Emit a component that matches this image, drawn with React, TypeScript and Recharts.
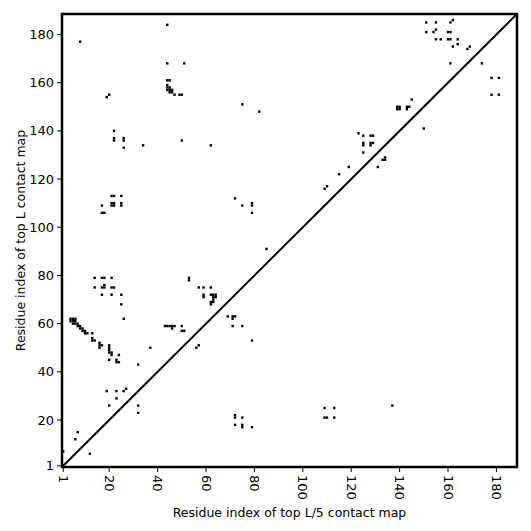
import type { FC } from 'react';
import {
  ScatterChart,
  Scatter,
  XAxis,
  YAxis,
  ReferenceLine,
  ReferenceArea,
} from 'recharts';

// residue count and axis ticks
const seqLength = 188;
const axisTicks = [1, 20, 40, 60, 80, 100, 120, 140, 160, 180];

// contacts of the top L map (upper triangle), [i, j]
const topLContacts: [number, number][] = [
  [44, 184], [8, 177], [44, 168], [51, 168], [44, 161], [45, 161],
  [44, 159], [44, 158], [45, 158], [44, 157], [45, 157], [46, 157], [45, 156], [46, 156],
  [47, 155], [49, 155], [50, 155], [20, 155], [19, 154],
  [22, 140], [22, 137], [22, 136], [26, 137], [26, 136], [26, 133], [34, 134], [50, 136], [62, 134],
  [21, 113], [22, 113], [25, 113], [21, 110], [22, 110], [21, 109], [22, 109], [17, 109],
  [25, 110], [25, 109], [17, 106], [18, 106],
  [14, 79], [17, 79], [18, 79], [21, 79], [14, 75], [17, 75], [18, 75], [18, 76], [21, 75], [22, 75],
  [17, 72], [21, 72], [25, 72], [25, 68],
  [53, 78], [53, 79], [57, 75], [59, 75], [62, 75], [59, 72], [59, 71],
  [62, 72], [63, 72], [64, 72], [63, 71], [64, 71], [63, 70], [62, 69], [63, 69], [62, 68],
  [26, 62], [4, 62], [5, 62], [6, 62], [4, 61], [5, 61], [6, 61], [5, 60], [6, 60], [7, 60],
  [7, 59], [8, 59], [8, 58], [9, 58], [9, 57], [10, 57], [10, 56], [11, 56],
  [13, 56], [13, 54], [13, 53], [14, 53], [16, 52], [16, 51], [17, 51], [16, 50],
  [20, 51], [20, 50], [20, 49], [20, 48], [21, 48], [21, 47], [20, 45], [24, 47],
  [23, 45], [23, 44], [24, 44], [32, 43], [37, 50],
  [43, 59], [44, 59], [45, 59], [46, 59], [47, 59], [46, 58], [50, 59], [50, 57], [51, 57],
  [56, 50], [57, 51],
  [19, 32], [23, 32], [26, 32], [27, 33], [23, 29], [20, 26], [32, 26], [32, 23],
  [7, 15], [6, 12], [1, 7],
  [75, 151], [82, 148], [123, 139], [119, 125], [115, 122], [110, 117], [109, 116],
  [72, 112], [75, 109], [79, 110], [79, 109], [79, 106], [85, 91],
  [151, 185], [155, 185], [161, 185], [162, 186], [151, 181], [154, 181], [155, 182],
  [160, 181], [161, 181], [155, 178], [157, 178], [160, 178], [161, 178], [164, 178],
  [162, 175], [164, 176], [168, 174], [169, 175],
  [145, 153], [139, 150], [140, 150], [139, 149], [140, 149], [143, 150], [144, 150], [143, 149],
  [125, 138], [128, 138], [129, 138], [125, 135], [125, 134], [128, 135], [129, 135], [128, 134],
  [125, 131],
];

// contacts of the top L/5 map (lower triangle), [i, j]
const topL5Contacts: [number, number][] = [
  [161, 168], [174, 168], [178, 162], [181, 162], [178, 155], [181, 155], [150, 141],
  [133, 128], [134, 128], [134, 129], [131, 125], [137, 26],
  [109, 25], [113, 25], [109, 21], [110, 21], [113, 21],
  [72, 21], [72, 22], [75, 21], [72, 18], [75, 18], [75, 17], [79, 17],
  [79, 53], [71, 59], [75, 59], [69, 63], [71, 63], [72, 63], [71, 62], [12, 6],
];

const FONT = '"DejaVu Sans", sans-serif';
const CELL = 455 / seqLength;
const DOMAIN: [number, number] = [0.5, seqLength + 0.5];

const toPoints = (list: [number, number][]) => list.map(([x, y]) => ({ x, y }));

const Cell: FC<{ cx?: number; cy?: number }> = ({ cx = 0, cy = 0 }) => (
  <rect x={cx - CELL / 2} y={cy - CELL / 2} width={CELL} height={CELL} fill="#000" />
);

const RotatedTick: FC<{ x?: number; y?: number; payload?: { value: number } }> = ({ x = 0, y = 0, payload }) => (
  <text
    x={x}
    y={y}
    transform={`rotate(90, ${x}, ${y})`}
    textAnchor="start"
    dominantBaseline="central"
    fontSize={13}
    fontFamily={FONT}
    fill="#000"
  >
    {payload?.value}
  </text>
);

const YLabel: FC<{ viewBox?: { x: number; y: number; width: number; height: number } }> = ({ viewBox }) => {
  const cx = (viewBox?.x ?? 0) + 20;
  const cy = (viewBox?.y ?? 0) + (viewBox?.height ?? 0) / 2;
  return (
    <text
      x={cx}
      y={cy}
      transform={`rotate(-90, ${cx}, ${cy})`}
      textAnchor="middle"
      dominantBaseline="central"
      fontSize={12.5}
      fontFamily={FONT}
      fill="#000"
    >
      Residue index of top L contact map
    </text>
  );
};

export default function App() {
  return (
    <div style={{ position: 'absolute', left: 0, top: 0, background: '#fff' }}>
      <ScatterChart width={531} height={531} margin={{ top: 0, right: 0, bottom: 0, left: 0 }}>
        <XAxis
          dataKey="x"
          type="number"
          domain={DOMAIN}
          ticks={axisTicks}
          interval={0}
          height={64}
          axisLine={false}
          tickLine={{ stroke: '#000' }}
          tickSize={5}
          tickMargin={3}
          tick={<RotatedTick />}
          allowDataOverflow
          label={{
            value: 'Residue index of top L/5 contact map',
            position: 'insideBottom',
            offset: 14,
            fill: '#000',
            fontSize: 12.5,
            fontFamily: FONT,
          }}
        />
        <XAxis
          xAxisId="top"
          orientation="top"
          type="number"
          domain={DOMAIN}
          ticks={axisTicks}
          interval={0}
          height={14}
          axisLine={false}
          tickLine={{ stroke: '#000' }}
          tickSize={5}
          tick={false}
          allowDataOverflow
        />
        <YAxis
          dataKey="y"
          type="number"
          domain={DOMAIN}
          ticks={axisTicks}
          interval={0}
          width={62}
          axisLine={false}
          tickLine={{ stroke: '#000' }}
          tickSize={5}
          tickMargin={3}
          tick={{ fill: '#000', fontSize: 13, fontFamily: FONT }}
          allowDataOverflow
          label={<YLabel />}
        />
        <YAxis
          yAxisId="right"
          orientation="right"
          type="number"
          domain={DOMAIN}
          ticks={axisTicks}
          interval={0}
          width={14}
          axisLine={false}
          tickLine={{ stroke: '#000' }}
          tickSize={5}
          tick={false}
          allowDataOverflow
        />
        <Scatter data={toPoints(topLContacts)} shape={<Cell />} isAnimationActive={false} />
        <Scatter data={toPoints(topL5Contacts)} shape={<Cell />} isAnimationActive={false} />
        <ReferenceLine
          segment={[{ x: DOMAIN[0], y: DOMAIN[0] }, { x: DOMAIN[1], y: DOMAIN[1] }]}
          stroke="#000"
          strokeWidth={2}
          ifOverflow="visible"
        />
        <ReferenceArea
          x1={DOMAIN[0]}
          x2={DOMAIN[1]}
          y1={DOMAIN[0]}
          y2={DOMAIN[1]}
          fill="none"
          fillOpacity={0}
          stroke="#000"
          strokeWidth={2.5}
          ifOverflow="visible"
        />
      </ScatterChart>
    </div>
  );
}
